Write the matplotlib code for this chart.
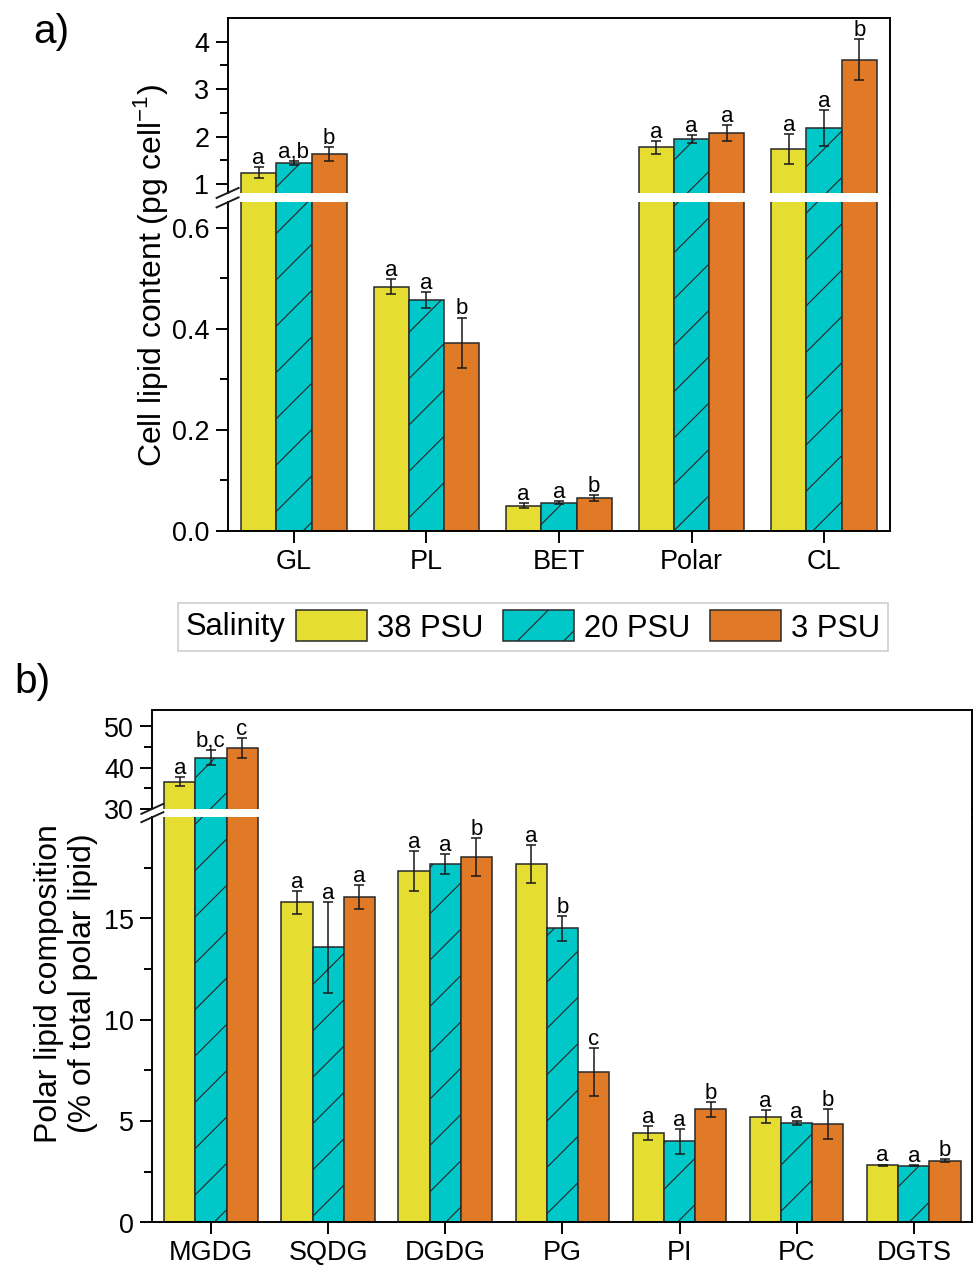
import matplotlib
matplotlib.use("Agg")
import matplotlib.pyplot as plt
from matplotlib.lines import Line2D
from matplotlib.offsetbox import HPacker
from matplotlib.ticker import FormatStrFormatter
import numpy as np

# ---- data ----
salinity = ["38 PSU", "20 PSU", "3 PSU"]

groups_a = ["GL", "PL", "BET", "Polar", "CL"]
a_38 = [1.24, 0.483, 0.050, 1.77, 1.73]
a_38_err = [0.12, 0.015, 0.004, 0.14, 0.32]
a_20 = [1.44, 0.457, 0.055, 1.95, 2.18]
a_20_err = [0.05, 0.016, 0.003, 0.09, 0.37]
a_3 = [1.63, 0.372, 0.064, 2.07, 3.62]
a_3_err = [0.14, 0.050, 0.006, 0.17, 0.43]
a_38_sig = ["a", "a", "a", "a", "a"]
a_20_sig = ["a,b", "a", "a", "a", "a"]
a_3_sig = ["b", "b", "b", "a", "b"]

groups_b = ["MGDG", "SQDG", "DGDG", "PG", "PI", "PC", "DGTS"]
b_38 = [36.6, 15.8, 17.34, 17.7, 4.40, 5.22, 2.82]
b_38_err = [1.1, 0.56, 1.0, 0.94, 0.33, 0.31, 0.03]
b_20 = [42.4, 13.58, 17.7, 14.51, 3.99, 4.88, 2.80]
b_20_err = [1.8, 2.25, 0.5, 0.6, 0.6, 0.10, 0.03]
b_3 = [44.8, 16.07, 18.03, 7.42, 5.58, 4.84, 3.05]
b_3_err = [2.4, 0.6, 0.94, 1.18, 0.36, 0.75, 0.05]
b_38_sig = ["a", "a", "a", "a", "a", "a", "a"]
b_20_sig = ["b,c", "a", "a", "b", "a", "a", "a"]
b_3_sig = ["c", "a", "b", "c", "b", "b", "b"]

# ---- style ----
colors = ["#E6DD32", "#00C8C8", "#E07A26"]
hatches = [None, "/", None]
EDGE = "#2a2a2a"
width = 0.266

plt.rcParams["font.family"] = ["Liberation Sans", "DejaVu Sans"]
plt.rcParams["mathtext.fontset"] = "custom"
plt.rcParams["mathtext.rm"] = "Liberation Sans"
plt.rcParams["hatch.linewidth"] = 0.6
plt.rcParams["axes.linewidth"] = 1.0

W, H, DPI = 973, 1265, 139
fig = plt.figure(figsize=(973.4 / DPI, 1265.4 / DPI), dpi=DPI)


def rect(l, t, r, b):
    return [l / W, 1 - b / H, (r - l) / W, (b - t) / H]


def fx(px):
    return px / W


def fy(py):
    return 1 - py / H


def panel(left, right, top, brk_top, brk_bot, bottom, cats, vals, errs, sigs,
          up_lim, lo_lim, up_ticks, up_minor, lo_ticks, lo_minor, lo_fmt=None):
    ax_up = fig.add_axes(rect(left, top, right, brk_top))
    ax_lo = fig.add_axes(rect(left, brk_bot, right, bottom))
    x = np.arange(len(cats))
    offs = [-width, 0, width]
    bars = []
    for ax in (ax_up, ax_lo):
        for k in range(3):
            b = ax.bar(x + offs[k], vals[k], width, color=colors[k],
                       edgecolor=EDGE, linewidth=0.8, hatch=hatches[k],
                       label=salinity[k])
            if ax is ax_lo:
                bars.append(b)
            ax.errorbar(x + offs[k], vals[k], yerr=errs[k], fmt="none",
                        ecolor="#1a1a1a", elinewidth=0.8, capsize=2.7,
                        capthick=0.8)
        ax.set_xlim(-0.5, len(cats) - 0.5)
        ax.tick_params(axis="y", which="major", length=6, width=1.0,
                       labelsize=14, pad=3.5)
        ax.tick_params(axis="y", which="minor", length=4, width=1.0)
        ax.tick_params(axis="x", length=6, width=1.0, labelsize=14, pad=3)

    ax_up.set_ylim(*up_lim)
    ax_lo.set_ylim(*lo_lim)
    ax_up.set_yticks(up_ticks)
    ax_up.set_yticks(up_minor, minor=True)
    ax_lo.set_yticks(lo_ticks)
    ax_lo.set_yticks(lo_minor, minor=True)
    if lo_fmt:
        ax_lo.yaxis.set_major_formatter(FormatStrFormatter(lo_fmt))

    ax_up.spines["bottom"].set_visible(False)
    ax_up.tick_params(axis="x", bottom=False, labelbottom=False)
    ax_lo.spines["top"].set_visible(False)
    ax_lo.set_xticks(x)
    ax_lo.set_xticklabels(cats)

    # significance letters
    for k in range(3):
        for i in range(len(cats)):
            tip = vals[k][i] + errs[k][i]
            ax = ax_up if tip > lo_lim[1] else ax_lo
            ax.annotate(sigs[k][i], (x[i] + offs[k], tip), xytext=(0, 1.8),
                        textcoords="offset points", ha="center",
                        va="baseline", fontsize=11.5)

    # break marks on left spine, continuous right spine
    for yb in (brk_top, brk_bot):
        fig.add_artist(Line2D([fx(left - 11), fx(left + 11)],
                              [fy(yb + 5), fy(yb - 5)],
                              transform=fig.transFigure, color="#1a1a1a",
                              lw=1.0))
    fig.add_artist(Line2D([fx(right), fx(right)], [fy(brk_bot), fy(brk_top)],
                          transform=fig.transFigure, color="black", lw=1.0))
    return bars


bars = panel(227.5, 890, 18.3, 193.3, 202.7, 531, groups_a,
             [a_38, a_20, a_3], [a_38_err, a_20_err, a_3_err],
             [a_38_sig, a_20_sig, a_3_sig],
             (0.81, 4.5), (0, 0.65), [1, 2, 3, 4], [1.5, 2.5, 3.5],
             [0, 0.2, 0.4, 0.6], [0.1, 0.3, 0.5], lo_fmt="%.1f")

panel(152.3, 972, 710, 809, 817.3, 1222.3, groups_b,
      [b_38, b_20, b_3], [b_38_err, b_20_err, b_3_err],
      [b_38_sig, b_20_sig, b_3_sig],
      (30, 54), (0, 20), [30, 40, 50], [35, 45],
      [0, 5, 10, 15], [2.5, 7.5, 12.5, 17.5])

# axis titles and panel labels
fig.text(fx(150), fy(275), r"Cell lipid content (pg cell$^{\mathregular{-1}}$)",
         rotation=90, ha="center", va="center", fontsize=16.5)
fig.text(fx(66), fy(983), "Polar lipid composition\n(% of total polar lipid)",
         rotation=90, ha="center", va="center", multialignment="center",
         fontsize=16.5, linespacing=1.15)
fig.text(fx(33), fy(43), "a)", fontsize=21, va="baseline")
fig.text(fx(14), fy(693), "b)", fontsize=21, va="baseline")

# legend with inline title
leg = fig.legend(bars, salinity, loc="center",
                 bbox_to_anchor=(fx(533), fy(627)), ncol=3, title="Salinity",
                 fontsize=16, title_fontsize=16, frameon=True, fancybox=False,
                 edgecolor="#cccccc", handlelength=2.3, handleheight=1.13,
                 handletextpad=0.32, columnspacing=0.65, borderpad=0.25)
leg.get_frame().set_linewidth(1.0)
leg._legend_box.__class__ = HPacker
leg._legend_box.sep = 5

fig.savefig("out.png", dpi=DPI)
